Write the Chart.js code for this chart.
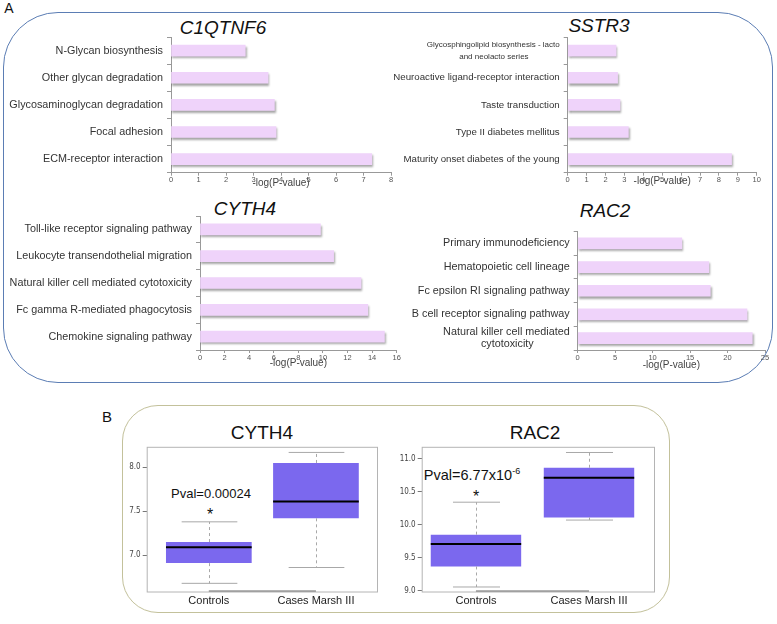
<!DOCTYPE html>
<html>
<head>
<meta charset="utf-8">
<script src="https://cdn.jsdelivr.net/npm/chart.js@4.4.1/dist/chart.umd.min.js"></script>
<style>
body { margin: 0; width: 777px; height: 624px; position: relative; overflow: hidden; background: #fff;
  font-family: "Liberation Sans", Arial, sans-serif; color: #111; }
canvas { position: absolute; }
.t { position: absolute; line-height: 1; white-space: nowrap; transform: translate(-50%, -50%); }
.gene { font-size: 19px; font-style: italic; }
.boxtitle { font-size: 19px; }
#panelA { position: absolute; left: 3px; top: 12px; width: 770px; height: 371px; box-sizing: border-box;
  border: 1px solid #5b7db4; border-radius: 55px; }
#panelB { position: absolute; left: 122px; top: 405px; width: 548px; height: 208px; box-sizing: border-box;
  border: 1px solid #c3c19b; border-radius: 36px; }
sup { font-size: 9px; vertical-align: 6px; }
</style>
</head>
<body>
<div id="panelA"></div>
<div id="panelB"></div>

<div class="t" style="left:9px;top:8px;font-size:14px">A</div>
<div class="t" style="left:107px;top:416px;font-size:15px">B</div>

<div class="t gene" style="left:223px;top:27px">C1QTNF6</div>
<div class="t gene" style="left:599px;top:25px">SSTR3</div>
<div class="t gene" style="left:245px;top:208px">CYTH4</div>
<div class="t gene" style="left:605px;top:210px">RAC2</div>

<div class="t boxtitle" style="left:262px;top:432px">CYTH4</div>
<div class="t boxtitle" style="left:535px;top:432px">RAC2</div>
<div class="t" style="left:211px;top:493px;font-size:13px">Pval=0.00024</div>
<div class="t" style="left:210px;top:515px;font-size:16px">*</div>
<div class="t" style="left:472px;top:475px;font-size:14.5px">Pval=6.77x10<sup>-6</sup></div>
<div class="t" style="left:476px;top:497px;font-size:16px">*</div>

<canvas id="c1q" width="400" height="175" style="left:0;top:25px"></canvas>
<canvas id="sstr" width="392" height="175" style="left:385px;top:25px"></canvas>
<canvas id="cyth" width="402" height="180" style="left:0;top:200px"></canvas>
<canvas id="rac" width="392" height="180" style="left:385px;top:200px"></canvas>
<canvas id="cythBox" width="262" height="176" style="left:122px;top:440px"></canvas>
<canvas id="racBox" width="278" height="176" style="left:392px;top:440px"></canvas>

<script>
var c1qLabels = ['N-Glycan biosynthesis', 'Other glycan degradation', 'Glycosaminoglycan degradation',
  'Focal adhesion', 'ECM-receptor interaction'];
var c1qValues = [2.7, 3.53, 3.76, 3.82, 7.3];
var c1qTicks = [0, 1, 2, 3, 4, 5, 6, 7, 8];

var sstrLabels = [['Glycosphingolipid biosynthesis - lacto', 'and neolacto series'],
  'Neuroactive ligand-receptor interaction', 'Taste transduction', 'Type II diabetes mellitus',
  'Maturity onset diabetes of the young'];
var sstrValues = [2.56, 2.64, 2.77, 3.21, 8.67];
var sstrTicks = [0, 1, 2, 3, 4, 5, 6, 7, 8, 9, 10];

var cythLabels = ['Toll-like receptor signaling pathway', 'Leukocyte transendothelial migration',
  'Natural killer cell mediated cytotoxicity', 'Fc gamma R-mediated phagocytosis', 'Chemokine signaling pathway'];
var cythValues = [9.8, 10.87, 13.1, 13.65, 15.0];
var cythTicks = [0, 2, 4, 6, 8, 10, 12, 14, 16];

var racLabels = ['Primary immunodeficiency', 'Hematopoietic cell lineage', 'Fc epsilon RI signaling pathway',
  'B cell receptor signaling pathway', ['Natural killer cell mediated', 'cytotoxicity']];
var racValues = [13.9, 17.5, 17.7, 22.6, 23.3];
var racTicks = [0, 5, 10, 15, 20, 25];

var boxGroups = ['Controls', 'Cases Marsh III'];

var cythMin = [6.68, 6.86];
var cythQ1 = [6.91, 7.42];
var cythMedian = [7.09, 7.61];
var cythQ3 = [7.15, 8.05];
var cythMax = [7.38, 8.17];
var cythBoxTicks = [7.0, 7.5, 8.0];

var racMin = [9.06, 10.07];
var racQ1 = [9.37, 10.11];
var racMedian = [9.71, 10.71];
var racQ3 = [9.85, 10.86];
var racMax = [10.34, 11.09];
var racBoxTicks = [9.0, 9.5, 10.0, 10.5, 11.0];

Chart.defaults.font.family = '"Liberation Sans", Arial, sans-serif';
Chart.defaults.animation = false;

var fontFamily = '"Liberation Sans", Arial, sans-serif';
var measureCtx = document.createElement('canvas').getContext('2d');

// right aligned ticks, but wrapped lines sit centred under the first one
function padLines(label, size) {
  if (!Array.isArray(label)) return label;
  measureCtx.font = size + 'px ' + fontFamily;
  var widths = label.map(function (l) { return measureCtx.measureText(l).width; });
  var widest = Math.max.apply(null, widths);
  var space = measureCtx.measureText(' ').width;
  return label.map(function (l, i) {
    var n = Math.round((widest - widths[i]) / 2 / space);
    return l + new Array(n + 1).join(' ');
  });
}

var shadowPlugin = {
  id: 'barShadow',
  beforeDatasetsDraw: function (chart) {
    var c = chart.ctx;
    c.save();
    c.shadowColor = 'rgba(0,0,0,0.35)';
    c.shadowBlur = 2;
    c.shadowOffsetX = 1;
    c.shadowOffsetY = 2;
  },
  afterDatasetsDraw: function (chart) {
    chart.ctx.restore();
  }
};

function pathwayChart(id, labels, values, ticks, box) {
  var size = box.size || 10.8;
  var wrapSize = box.wrapSize || size;
  return new Chart(document.getElementById(id), {
    type: 'bar',
    data: {
      labels: labels,
      datasets: [{ data: values, backgroundColor: '#efd3fa', borderWidth: 0, barThickness: 11 }]
    },
    options: {
      indexAxis: 'y',
      responsive: false,
      layout: { padding: { left: 0, right: box.right, top: box.top, bottom: 0 } },
      plugins: { legend: { display: false }, tooltip: { enabled: false } },
      scales: {
        x: {
          min: ticks[0],
          max: ticks[ticks.length - 1],
          afterBuildTicks: function (s) { s.ticks = ticks.map(function (v) { return { value: v }; }); },
          afterFit: function (s) { s.height = box.xh; },
          grid: { drawOnChartArea: false, tickLength: 3, color: '#999' },
          border: { color: '#999' },
          ticks: { font: { size: 7.5 }, color: '#555', padding: 0, maxRotation: 0, autoSkip: false },
          title: { display: true, text: '-log(P-value)', font: { size: 10 }, color: '#444',
            padding: { top: 0, bottom: box.tb } }
        },
        y: {
          afterFit: function (s) { s.width = box.yw; },
          grid: { drawOnChartArea: false, offset: true, tickLength: 4, color: '#999' },
          border: { color: '#999' },
          ticks: {
            color: '#333', padding: 4, autoSkip: false,
            font: function (ctx) {
              if (Array.isArray(labels[ctx.index])) return { size: wrapSize, lineHeight: box.wrapLine || 1.15 };
              return { size: size };
            },
            callback: function (v, i) { return padLines(labels[i], wrapSize); }
          }
        }
      }
    },
    plugins: [shadowPlugin]
  });
}

pathwayChart('c1q', c1qLabels, c1qValues, c1qTicks, { yw: 171, right: 9, top: 12, xh: 27.3, tb: 10.5 });
pathwayChart('sstr', sstrLabels, sstrValues, sstrTicks,
  { yw: 182.7, right: 20.3, top: 12, xh: 27.3, tb: 13, size: 9.7, wrapSize: 8, wrapLine: 1.55 });
pathwayChart('cyth', cythLabels, cythValues, cythTicks, { yw: 200, right: 5.3, top: 16, xh: 30, tb: 11 });
pathwayChart('rac', racLabels, racValues, racTicks, { yw: 192.7, right: 12, top: 31.5, xh: 30, tb: 9 });

var boxPlugin = {
  id: 'boxParts',
  beforeDatasetsDraw: function (chart) {
    var a = chart.chartArea, c = chart.ctx;
    c.save();
    c.strokeStyle = '#b4b4b4';
    c.lineWidth = 1;
    c.strokeRect(a.left + 0.5, a.top + 0.5, a.right - a.left, a.bottom - a.top);
    c.restore();
  },
  afterDatasetsDraw: function (chart, args, o) {
    var c = chart.ctx, ys = chart.scales.y, xs = chart.scales.x, a = chart.chartArea;
    chart.getDatasetMeta(0).data.forEach(function (bar, i) {
      var cx = Math.round(bar.x) + 0.5, half = bar.width / 2, capHalf = half * o.cap;
      var yMin = ys.getPixelForValue(o.min[i]), yMax = ys.getPixelForValue(o.max[i]);
      var yQ1 = ys.getPixelForValue(o.q1[i]), yQ3 = ys.getPixelForValue(o.q3[i]);
      var yMed = ys.getPixelForValue(o.median[i]);
      c.save();
      c.strokeStyle = '#a8a8a8';
      c.lineWidth = 1;
      c.setLineDash([3, 3]);
      c.beginPath();
      c.moveTo(cx, yQ3); c.lineTo(cx, yMax);
      c.moveTo(cx, yQ1); c.lineTo(cx, yMin);
      c.stroke();
      c.setLineDash([]);
      c.beginPath();
      c.moveTo(cx - capHalf, yMax); c.lineTo(cx + capHalf, yMax);
      c.moveTo(cx - capHalf, yMin); c.lineTo(cx + capHalf, yMin);
      c.stroke();
      c.strokeStyle = '#000';
      c.lineWidth = 2;
      c.beginPath();
      c.moveTo(bar.x - half, yMed); c.lineTo(bar.x + half, yMed);
      c.stroke();
      c.restore();
    });
    c.save();
    c.strokeStyle = '#666';
    c.beginPath();
    c.moveTo(xs.getPixelForValue(1), a.bottom - 0.5);
    c.lineTo(xs.getPixelForValue(boxGroups.length), a.bottom - 0.5);
    c.stroke();
    c.restore();
  }
};

function boxChart(id, stats, yTicks, box) {
  return new Chart(document.getElementById(id), {
    type: 'bar',
    data: {
      datasets: [{
        data: boxGroups.map(function (g, i) { return { x: i + 1, y: [stats.q1[i], stats.q3[i]] }; }),
        backgroundColor: '#7b68ee',
        borderWidth: 0,
        categoryPercentage: 0.8,
        barPercentage: 1
      }]
    },
    options: {
      responsive: false,
      layout: { padding: { left: 0, right: box.right, top: 6, bottom: 0 } },
      plugins: {
        legend: { display: false },
        tooltip: { enabled: false },
        boxParts: stats
      },
      scales: {
        x: {
          type: 'linear',
          offset: false,
          min: box.xmin,
          max: box.xmax,
          afterBuildTicks: function (s) { s.ticks = boxGroups.map(function (g, i) { return { value: i + 1 }; }); },
          afterFit: function (s) { s.height = 24.5; },
          grid: { display: false, drawTicks: false, offset: false },
          border: { display: false },
          ticks: {
            font: { size: 11 }, color: '#222', padding: 3, maxRotation: 0, autoSkip: false,
            callback: function (v, i) { return boxGroups[i]; }
          }
        },
        y: {
          min: box.ymin,
          max: box.ymax,
          afterBuildTicks: function (s) { s.ticks = yTicks.map(function (v) { return { value: v }; }); },
          afterFit: function (s) { s.width = box.yw; },
          grid: { drawOnChartArea: false, tickLength: 4, color: '#777' },
          border: { display: false },
          ticks: {
            font: { family: '"DejaVu Sans Condensed", "DejaVu Sans", sans-serif', size: 8 }, color: '#444', padding: 2,
            callback: function (v) { return v.toFixed(1); }
          }
        }
      }
    },
    plugins: [boxPlugin]
  });
}

boxChart('cythBox',
  { min: cythMin, q1: cythQ1, median: cythMedian, q3: cythQ3, max: cythMax, cap: 0.65 },
  cythBoxTicks, { yw: 24.7, right: 7, xmin: 0.42, xmax: 2.57, ymin: 6.587, ymax: 8.234 });
boxChart('racBox',
  { min: racMin, q1: racQ1, median: racMedian, q3: racQ3, max: racMax, cap: 0.52 },
  racBoxTicks, { yw: 29.7, right: 16, xmin: 0.52, xmax: 2.575, ymin: 8.992, ymax: 11.176 });
</script>
</body>
</html>
